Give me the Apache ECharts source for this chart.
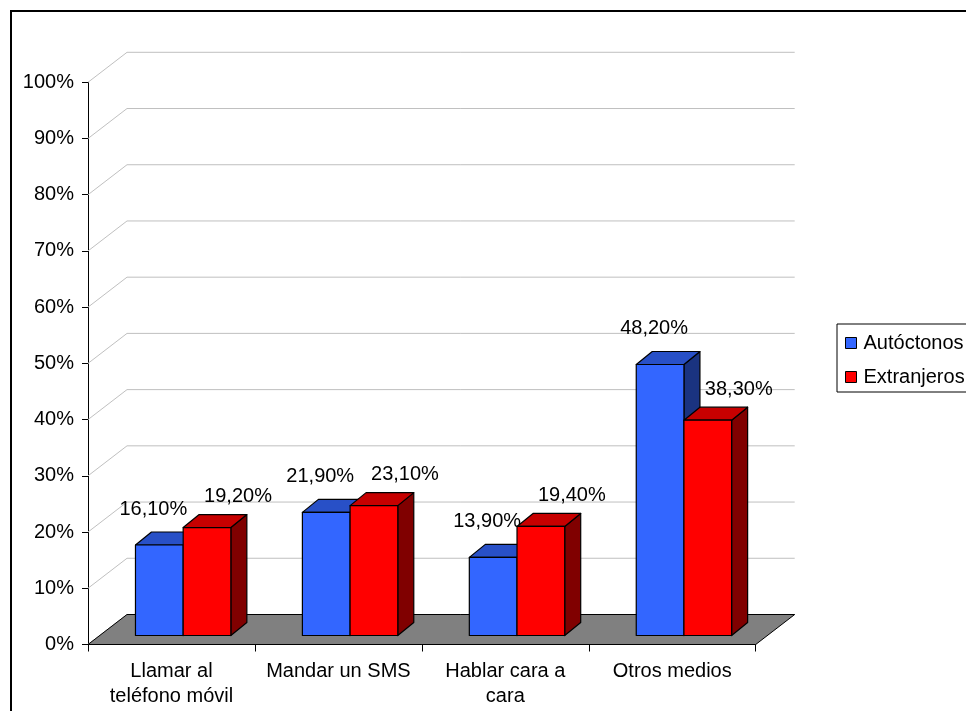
<!DOCTYPE html>
<html>
<head>
<meta charset="utf-8">
<script src="https://cdn.jsdelivr.net/npm/echarts@6/dist/echarts.min.js"></script>
<style>
  html, body { margin: 0; padding: 0; background: #fff; }
  #chart { width: 966px; height: 711px; }
</style>
</head>
<body>
<div id="chart"></div>
<script>
// Data
const categories = ['Llamar al\nteléfono móvil', 'Mandar un SMS', 'Hablar cara a\ncara', 'Otros medios'];
const seriesNames = ['Autóctonos', 'Extranjeros'];
const autoctonos = [16.1, 21.9, 13.9, 48.2];
const extranjeros = [19.2, 23.1, 19.4, 38.3];
const yTicks = [0, 10, 20, 30, 40, 50, 60, 70, 80, 90, 100];

const FONT = '"Liberation Sans", Arial, sans-serif';

// Oblique projection of the chart depth (pixels from front plane to back wall)
const DEPTH_DX = 39;
const DEPTH_DY = -30;
// Bars sit part-way into the depth; their own thickness is drawn with BAR_DX/BAR_DY
const BAR_FRONT = 0.30;
const BAR_DX = 16;
const BAR_DY = -13;

function shade(hex, k) {
  const n = parseInt(hex.slice(1), 16);
  const r = Math.round(((n >> 16) & 255) * k);
  const g = Math.round(((n >> 8) & 255) * k);
  const b = Math.round((n & 255) * k);
  return 'rgb(' + r + ',' + g + ',' + b + ')';
}

function fmtPct(v) {
  return v.toFixed(2).replace('.', ',') + '%';
}

// 3D box renderer for one series of the cluster
function boxRenderer(slot, color, labelDx, labelDy) {
  const topColor = shade(color, 0.78);
  const sideColor = shade(color, 0.5);
  const edge = { stroke: '#000', lineWidth: 1.2, lineJoin: 'round' };
  return function (params, api) {
    const i = api.value(0);
    const v = api.value(1);
    const catW = api.size([1, 0])[0];
    const barW = catW / 3.5;
    const top = api.coord([i, v]);
    const base = api.coord([i, 0]);
    const sx = BAR_FRONT * DEPTH_DX;
    const sy = BAR_FRONT * DEPTH_DY;
    const x0 = top[0] - barW + slot * barW + sx;
    const x1 = x0 + barW;
    const yT = top[1] + sy;
    const yB = base[1] + sy;
    return {
      type: 'group',
      children: [
        {
          type: 'polygon',
          shape: { points: [[x1, yT], [x1 + BAR_DX, yT + BAR_DY], [x1 + BAR_DX, yB + BAR_DY], [x1, yB]] },
          style: Object.assign({ fill: sideColor }, edge)
        },
        {
          type: 'polygon',
          shape: { points: [[x0, yT], [x0 + BAR_DX, yT + BAR_DY], [x1 + BAR_DX, yT + BAR_DY], [x1, yT]] },
          style: Object.assign({ fill: topColor }, edge)
        },
        {
          type: 'rect',
          shape: { x: x0, y: yT, width: barW, height: yB - yT },
          style: Object.assign({ fill: color }, edge)
        },
        {
          type: 'text',
          z2: 10,
          style: {
            x: (x0 + x1) / 2 + labelDx,
            y: yT + labelDy,
            text: fmtPct(v),
            fill: '#000',
            font: '20px ' + FONT,
            align: 'center',
            verticalAlign: 'middle'
          }
        }
      ]
    };
  };
}

const chart = echarts.init(document.getElementById('chart'), null, { renderer: 'canvas' });

const option = {
  backgroundColor: '#fff',
  animation: false,
  textStyle: { fontFamily: FONT },
  grid: { left: 88, top: 82.3, width: 667.7, height: 562.2, containLabel: false },
  graphic: [
    {
      type: 'rect',
      silent: true,
      shape: { x: 11, y: 11, width: 1200, height: 1000 },
      style: { fill: 'transparent', stroke: '#000', lineWidth: 2 }
    }
  ],
  legend: {
    orient: 'vertical',
    left: 837,
    top: 324,
    data: seriesNames,
    selectedMode: false,
    icon: 'rect',
    itemWidth: 11,
    itemHeight: 11,
    itemGap: 14,
    padding: [9, 12, 5, 8],
    borderColor: '#000',
    borderWidth: 1,
    itemStyle: { borderColor: '#000', borderWidth: 1 },
    textStyle: { fontFamily: FONT, fontSize: 20, color: '#000', lineHeight: 20, padding: [0, 0, 0, 2] }
  },
  xAxis: {
    type: 'category',
    data: categories,
    axisLine: { lineStyle: { color: '#000', width: 1 } },
    axisTick: { show: true, length: 7, lineStyle: { color: '#000', width: 1 } },
    axisLabel: { interval: 0, fontFamily: FONT, fontSize: 20, color: '#000', lineHeight: 25, margin: 14 },
    splitLine: { show: false }
  },
  yAxis: {
    type: 'value',
    min: 0,
    max: 100,
    interval: 10,
    axisLine: { show: true, lineStyle: { color: '#000', width: 1 } },
    axisTick: { show: true, length: 6, lineStyle: { color: '#000', width: 1 } },
    axisLabel: { formatter: '{value}%', fontFamily: FONT, fontSize: 20, color: '#000', margin: 14, padding: [4, 0, 0, 0] },
    splitLine: { show: false }
  },
  series: [
    {
      // back wall and side wall gridlines
      type: 'custom',
      name: 'walls',
      silent: true,
      z: 1,
      data: yTicks.map(function (v) { return [0, v]; }),
      encode: { x: 0, y: 1 },
      renderItem: function (params, api) {
        const cs = params.coordSys;
        const y = api.coord([0, api.value(1)])[1];
        const xl = cs.x;
        const xr = cs.x + cs.width;
        return {
          type: 'polyline',
          shape: { points: [[xl, y], [xl + DEPTH_DX, y + DEPTH_DY], [xr + DEPTH_DX, y + DEPTH_DY]] },
          style: { stroke: '#C0C0C0', lineWidth: 1, fill: null }
        };
      }
    },
    {
      // grey floor of the chart
      type: 'custom',
      name: 'floor',
      silent: true,
      z: 2,
      data: [[0, 0]],
      encode: { x: 0, y: 1 },
      renderItem: function (params, api) {
        const cs = params.coordSys;
        const y = api.coord([0, 0])[1];
        const xl = cs.x;
        const xr = cs.x + cs.width;
        return {
          type: 'polygon',
          shape: { points: [[xl, y], [xl + DEPTH_DX, y + DEPTH_DY], [xr + DEPTH_DX, y + DEPTH_DY], [xr, y]] },
          style: { fill: '#808080', stroke: '#000', lineWidth: 1 }
        };
      }
    },
    {
      type: 'custom',
      name: seriesNames[0],
      z: 3,
      itemStyle: { color: '#3366FF', borderColor: '#000', borderWidth: 1 },
      data: autoctonos.map(function (v, i) { return [i, v]; }),
      encode: { x: 0, y: 1 },
      renderItem: boxRenderer(0, '#3366FF', -6, -36)
    },
    {
      type: 'custom',
      name: seriesNames[1],
      z: 4,
      itemStyle: { color: '#FF0000', borderColor: '#000', borderWidth: 1 },
      data: extranjeros.map(function (v, i) { return [i, v]; }),
      encode: { x: 0, y: 1 },
      renderItem: boxRenderer(1, '#FF0000', 31, -31)
    }
  ]
};

chart.setOption(option);
</script>
</body>
</html>
